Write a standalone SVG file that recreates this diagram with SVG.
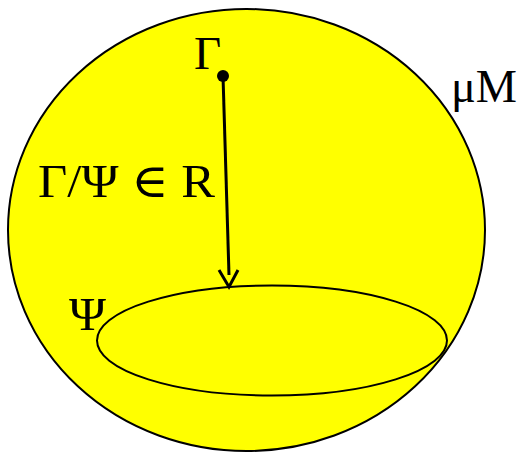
<svg xmlns="http://www.w3.org/2000/svg" width="521" height="452" viewBox="0 0 521 452">
<style>
.lbl{font-family:"Liberation Serif","DejaVu Serif",serif;font-size:47px;fill:#000}
.shape{fill:#ffff00;stroke:#000;stroke-width:2}
</style>
<rect width="521" height="452" fill="#fff"/>
<g id="M">
<ellipse class="shape" cx="246.5" cy="230" rx="238.5" ry="221"/>
<text class="lbl" x="451" y="102" textLength="66" lengthAdjust="spacingAndGlyphs">μM</text>
</g>
<g id="Psi">
<ellipse class="shape" cx="272" cy="340.5" rx="175" ry="55"/>
<text class="lbl" x="69" y="330" textLength="37" lengthAdjust="spacingAndGlyphs">Ψ</text>
</g>
<g id="Gamma">
<circle cx="223" cy="76" r="6" fill="#000"/>
<text class="lbl" x="194" y="69">Γ</text>
</g>
<g id="connectors">
<path d="M223,76 L229,275" stroke="#000" stroke-width="3" fill="none"/>
<path d="M219,270 L229,287 L238,270" stroke="#000" stroke-width="3" fill="none"/>
<text class="lbl" x="38" y="197" textLength="177" lengthAdjust="spacingAndGlyphs">Γ/Ψ ∈ R</text>
</g>
</svg>
